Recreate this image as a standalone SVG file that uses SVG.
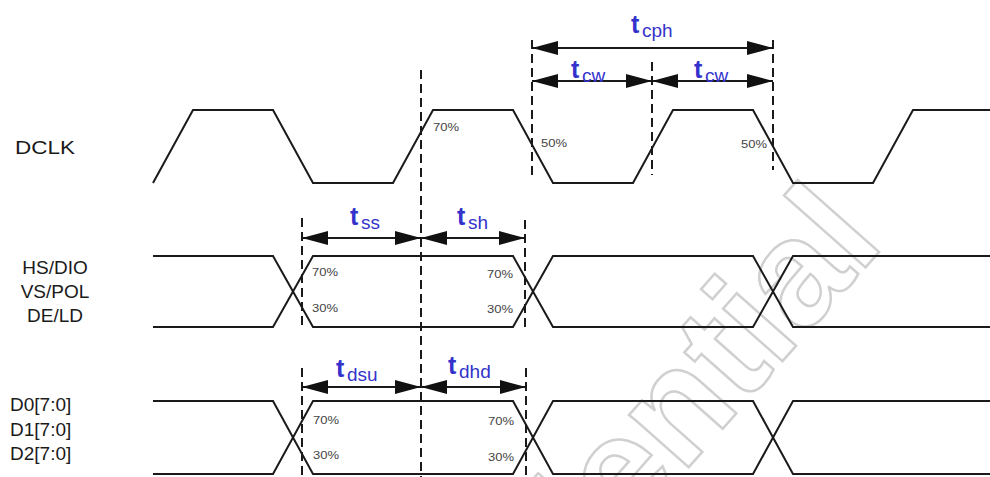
<svg xmlns="http://www.w3.org/2000/svg" width="990" height="477" viewBox="0 0 990 477">
<defs>
<style>
.wave{fill:none;stroke:#1a1a1a;stroke-width:2;stroke-linejoin:miter}
.dash{fill:none;stroke:#1a1a1a;stroke-width:2;stroke-dasharray:9 5}
.dim{fill:none;stroke:#1a1a1a;stroke-width:2;marker-start:url(#ah);marker-end:url(#ah)}
.lbl{font-family:"Liberation Sans",Arial,sans-serif;font-size:19px;fill:#1a1a1a}
.pct{font-family:"Liberation Sans",Arial,sans-serif;font-size:10px;fill:#444}
.t{font-family:"Liberation Sans",Arial,sans-serif;font-size:25px;font-weight:bold;fill:#3333cc}
.sub{font-family:"Liberation Sans",Arial,sans-serif;font-size:19px;font-weight:normal;fill:#3333cc}
.wm{font-family:"Liberation Sans",Arial,sans-serif;font-weight:bold;font-size:150px;fill:none;stroke:#d0d0d0;stroke-width:2.5}
</style>
<marker id="ah" viewBox="0 0 26 14" refX="26" refY="7" markerWidth="26" markerHeight="14" markerUnits="userSpaceOnUse" orient="auto-start-reverse">
<path d="M0,0 L26,7 L0,14 Z" fill="#111"/>
</marker>
</defs>
<rect width="990" height="477" fill="#fff"/>
<g id="watermark">
<text class="wm" x="0" y="0" text-anchor="end" transform="translate(886,244) rotate(-48.5)">Confidential</text>
</g>
<g id="guides">
<path class="dash" d="M421,70 V477"/>
<path class="dash" d="M532,40 V175"/>
<path class="dash" d="M652,62 V175"/>
<path class="dash" d="M773,40 V170"/>
<path class="dash" d="M302,218 V330"/>
<path class="dash" d="M525,220 V330"/>
<path class="dash" d="M302,368 V477"/>
<path class="dash" d="M526,368 V477"/>
</g>
<g id="dclk">
<text class="lbl" x="15" y="154" textLength="60" lengthAdjust="spacingAndGlyphs">DCLK</text>
<path class="wave" d="M153,183 L193,110 L273,110 L313,183 L393,183 L433,110 L513,110 L553,183 L633,183 L673,110 L753,110 L793,183 L873,183 L913,110 L990,110"/>
<text class="pct" x="433" y="131" textLength="26" lengthAdjust="spacingAndGlyphs">70%</text>
<text class="pct" x="541" y="147" textLength="26" lengthAdjust="spacingAndGlyphs">50%</text>
<text class="pct" x="767" y="148" text-anchor="end" textLength="26" lengthAdjust="spacingAndGlyphs">50%</text>
</g>
<g id="ctrl">
<text class="lbl" x="55" y="274" text-anchor="middle">HS/DIO</text>
<text class="lbl" x="55" y="298" text-anchor="middle">VS/POL</text>
<text class="lbl" x="55" y="322" text-anchor="middle">DE/LD</text>
<path class="wave" d="M153,256 L273,256 L313,327 L513,327 L553,256 L753,256 L793,327 L990,327"/>
<path class="wave" d="M153,327 L273,327 L313,256 L513,256 L553,327 L753,327 L793,256 L990,256"/>
<text class="pct" x="312" y="276" textLength="26" lengthAdjust="spacingAndGlyphs">70%</text>
<text class="pct" x="312" y="312" textLength="26" lengthAdjust="spacingAndGlyphs">30%</text>
<text class="pct" x="513" y="278" text-anchor="end" textLength="26" lengthAdjust="spacingAndGlyphs">70%</text>
<text class="pct" x="513" y="313" text-anchor="end" textLength="26" lengthAdjust="spacingAndGlyphs">30%</text>
</g>
<g id="data">
<text class="lbl" x="10" y="411">D0[7:0]</text>
<text class="lbl" x="10" y="436">D1[7:0]</text>
<text class="lbl" x="10" y="460">D2[7:0]</text>
<path class="wave" d="M153,401 L273,401 L313,474 L513,474 L553,401 L753,401 L793,474 L990,474"/>
<path class="wave" d="M153,474 L273,474 L313,401 L513,401 L553,474 L753,474 L793,401 L990,401"/>
<text class="pct" x="313" y="424" textLength="26" lengthAdjust="spacingAndGlyphs">70%</text>
<text class="pct" x="313" y="459" textLength="26" lengthAdjust="spacingAndGlyphs">30%</text>
<text class="pct" x="514" y="425" text-anchor="end" textLength="26" lengthAdjust="spacingAndGlyphs">70%</text>
<text class="pct" x="514" y="461" text-anchor="end" textLength="26" lengthAdjust="spacingAndGlyphs">30%</text>
</g>
<g id="connectors">
<path class="dim" d="M532,48 H773"/>
<path class="dim" d="M532,81 H652"/>
<path class="dim" d="M652,81 H773"/>
<path class="dim" d="M302,238 H421"/>
<path class="dim" d="M421,238 H525"/>
<path class="dim" d="M302,387 H421"/>
<path class="dim" d="M421,387 H526"/>
</g>
<g id="timing-labels">
<text class="t" x="631" y="33">t<tspan class="sub" x="642" y="37">cph</tspan></text>
<text class="t" x="571" y="78">t<tspan class="sub" x="582" y="82">cw</tspan></text>
<text class="t" x="694" y="78">t<tspan class="sub" x="705" y="82">cw</tspan></text>
<text class="t" x="350" y="225">t<tspan class="sub" x="361" y="229">ss</tspan></text>
<text class="t" x="457" y="225">t<tspan class="sub" x="468" y="229">sh</tspan></text>
<text class="t" x="336" y="377">t<tspan class="sub" x="347" y="381">dsu</tspan></text>
<text class="t" x="448" y="374">t<tspan class="sub" x="459" y="378">dhd</tspan></text>
</g>
</svg>
